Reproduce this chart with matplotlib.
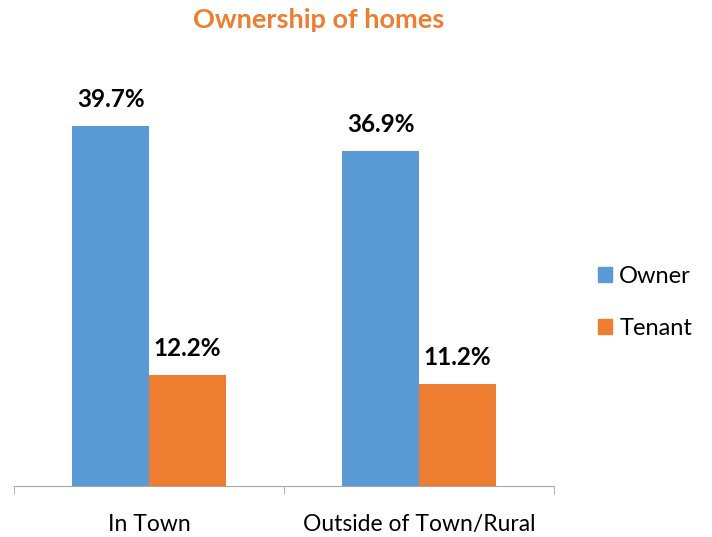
import matplotlib.pyplot as plt
import numpy as np
from matplotlib.patches import Patch

plt.rcParams['font.family'] = ['Lato', 'DejaVu Sans']

categories = ['In Town', 'Outside of Town/Rural']
owner = [39.7, 36.9]
tenant = [12.2, 11.2]
series_names = ['Owner', 'Tenant']

blue = '#5B9BD5'
orange = '#ED7D31'

fig = plt.figure(figsize=(7.12, 5.37), dpi=100)
ax = fig.add_axes([0.0197, 0.095, 0.7584, 0.76])

x = np.arange(len(categories))
w = 0.285
b1 = ax.bar(x - w / 2, owner, w, color=blue)
b2 = ax.bar(x + w / 2, tenant, w, color=orange)

for bars, vals in ((b1, owner), (b2, tenant)):
    for r, v in zip(bars, vals):
        ax.text(r.get_x() + r.get_width() / 2, v + 1.7, f'{v}%',
                ha='center', va='bottom', fontsize=17.5, fontweight='bold')

ax.set_xlim(-0.5, 1.5)
ax.set_ylim(0, 45)
ax.set_xticks(x)
ax.set_xticklabels(categories, fontsize=16.5)
ax.set_xticks([-0.5, 0.5, 1.5], minor=True)
ax.tick_params(axis='x', which='major', length=0, pad=20)
ax.tick_params(axis='x', which='minor', length=6, color='#a6a6a6', direction='out')
ax.set_yticks([])
for s in ('top', 'right', 'left'):
    ax.spines[s].set_visible(False)
ax.spines['bottom'].set_color('#a6a6a6')

handles = [Patch(color=blue), Patch(color=orange)]
fig.legend(handles, series_names, loc='center left', bbox_to_anchor=(0.81, 0.437),
           frameon=False, fontsize=17, handlelength=0.6, handleheight=0.6,
           handletextpad=0.3, labelspacing=1.3)

fig.text(0.448, 0.962, 'Ownership of homes', ha='center', va='center',
         fontsize=19.5, fontweight='bold', color=orange)

fig.savefig('out.png', dpi=100)
